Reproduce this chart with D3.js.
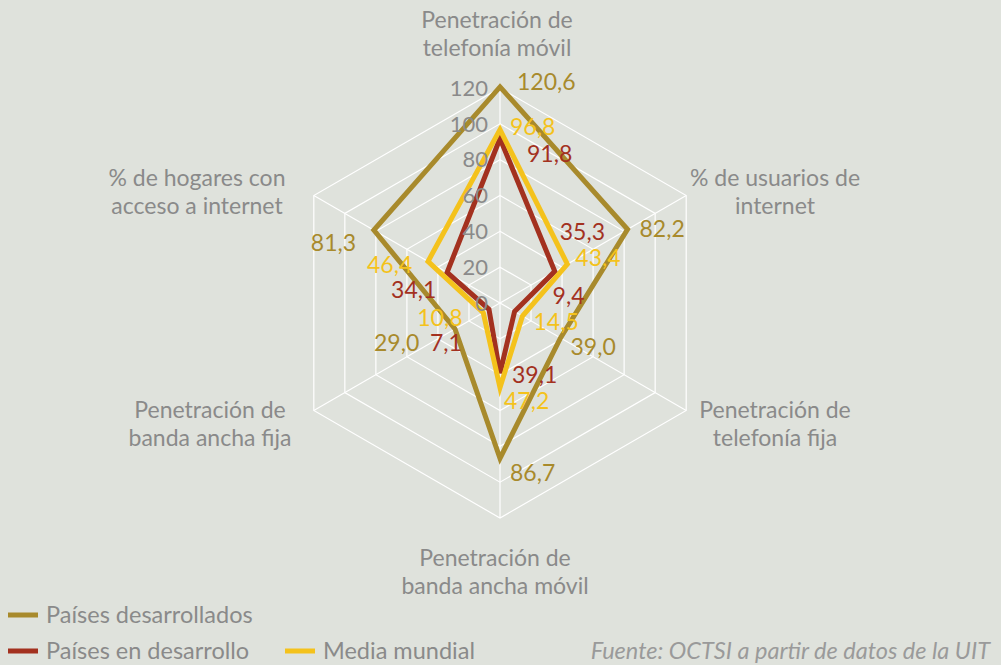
<!DOCTYPE html>
<html>
<head>
<meta charset="utf-8">
<script src="https://cdn.jsdelivr.net/npm/d3@7"></script>
<style>
  html, body { margin:0; padding:0; background:#dfe2dc; }
  svg text { font-family: Lato, "Open Sans", sans-serif; }
</style>
</head>
<body>
<div id="chart"></div>
<script>
var width=1001;
var height=665;

// axis categories (clockwise from top)
var categories=[
  ["Penetración de","telefonía móvil"],
  ["% de usuarios de","internet"],
  ["Penetración de","telefonía fija"],
  ["Penetración de","banda ancha móvil"],
  ["Penetración de","banda ancha fija"],
  ["% de hogares con","acceso a internet"]
];
var seriesNames=["Países desarrollados","Países en desarrollo","Media mundial"];
var developed=[120.6, 82.2, 39.0, 86.7, 29.0, 81.3];
var developing=[91.8, 35.3, 9.4, 39.1, 7.1, 34.1];
var world=[96.8, 43.4, 14.5, 47.2, 10.8, 46.4];
var ticks=[0,20,40,60,80,100,120];

var colors=["#a88a2c","#a3311f","#f4c21c"];
// data label nudges [dx,dy] per series per axis
var labelShift=[
  [[17,-5],[12,0],[10,9],[10,15],[-81,14],[-63,13]],
  [[27,15],[5,-39],[38,-15],[12,2],[-59,34],[-56,17]],
  [[10,-3],[8,-6],[11,6],[4,13],[-66,5],[-61,4]]
];

var cx=500, cy=303, R=215;

var svg=d3.select('#chart').append('svg')
  .attr('width', width)
  .attr('height', height);

svg.append('rect').attr('width',width).attr('height',height).attr('fill','#dfe2dc');

var r=d3.scaleLinear().domain([0,120]).range([0,R]);
var angle=d3.scaleLinear().domain([0,categories.length]).range([0,2*Math.PI]);

function pt(i, v){
  var a=angle(i);
  return [cx+r(v)*Math.sin(a), cy-r(v)*Math.cos(a)];
}

// grid rings
var g=svg.append('g');
ticks.slice(1).forEach(function(t){
  var pts=categories.map(function(c,i){ return pt(i,t); });
  g.append('polygon')
    .attr('points', pts.map(function(p){return p.join(',');}).join(' '))
    .attr('fill','none')
    .attr('stroke','#ffffff')
    .attr('stroke-width',1.2);
});
// spokes
categories.forEach(function(c,i){
  var p=pt(i,120);
  g.append('line').attr('x1',cx).attr('y1',cy).attr('x2',p[0]).attr('y2',p[1])
    .attr('stroke','#ffffff').attr('stroke-width',1.2);
});

// series
var allSeries=[developed, developing, world];
var line=d3.line().curve(d3.curveLinearClosed);
allSeries.forEach(function(s, k){
  svg.append('path')
    .attr('d', line(s.map(function(v,i){ return pt(i,v); })))
    .attr('fill','none')
    .attr('stroke', colors[k])
    .attr('stroke-width',5)
    .attr('stroke-linejoin','miter');
});

// tick labels
ticks.forEach(function(t){
  svg.append('text')
    .attr('x', cx-12)
    .attr('y', cy-r(t))
    .attr('dy','0.35em')
    .attr('text-anchor','end')
    .attr('font-size',22)
    .attr('fill','#8a8a8a')
    .text(t);
});

// data labels
allSeries.forEach(function(s,k){
  s.forEach(function(v,i){
    var p=pt(i,v);
    svg.append('text')
      .attr('x', p[0]+labelShift[k][i][0])
      .attr('y', p[1]+labelShift[k][i][1])
      .attr('dy','0.35em')
      .attr('font-size',23)
      .attr('fill', colors[k])
      .text(d3.format('.1f')(v).replace('.',','));
  });
});

// category labels
var catPos=[[497,20],[775,178],[775,410],[495,558],[210,410],[197,178]];
categories.forEach(function(c,i){
  var t=svg.append('text')
    .attr('x',catPos[i][0]).attr('y',catPos[i][1])
    .attr('text-anchor','middle')
    .attr('font-size',23)
    .attr('fill','#8a8a8a');
  c.forEach(function(l,j){
    t.append('tspan').attr('x',catPos[i][0]).attr('y',catPos[i][1]+j*28).attr('dy','0.35em').text(l);
  });
});

// legend
var legPos=[[8,615],[8,651],[285,651]];
seriesNames.forEach(function(n,k){
  svg.append('line')
    .attr('x1',legPos[k][0]).attr('x2',legPos[k][0]+30)
    .attr('y1',legPos[k][1]).attr('y2',legPos[k][1])
    .attr('stroke',colors[k]).attr('stroke-width',5);
  svg.append('text')
    .attr('x',legPos[k][0]+38).attr('y',legPos[k][1])
    .attr('dy','0.35em')
    .attr('font-size',23.5)
    .attr('fill','#8a8a8a')
    .text(n);
});

svg.append('text')
  .attr('x',990).attr('y',651).attr('dy','0.35em')
  .attr('text-anchor','end')
  .attr('font-size',23.5)
  .attr('font-style','italic')
  .attr('fill','#9a9a9a')
  .text('Fuente: OCTSI a partir de datos de la UIT');
</script>
</body>
</html>
